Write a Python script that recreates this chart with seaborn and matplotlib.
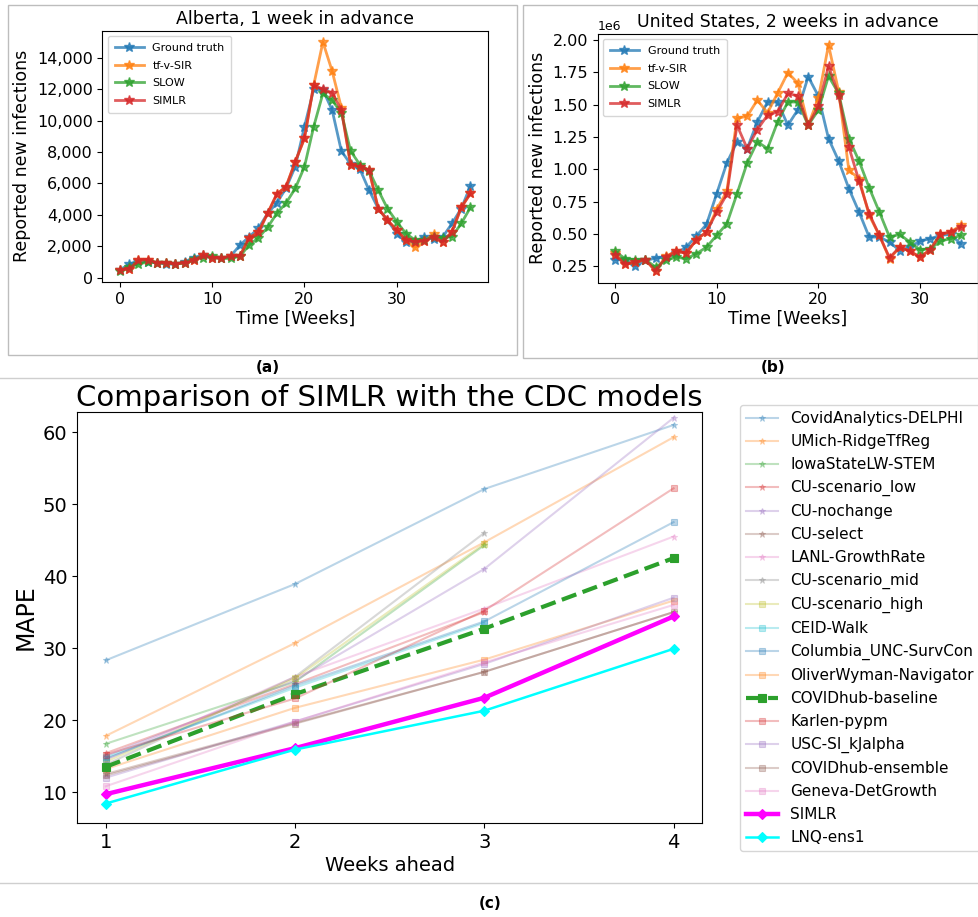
import numpy as np
import pandas as pd
import seaborn as sns
import matplotlib
matplotlib.use("Agg")
import matplotlib.pyplot as plt
from matplotlib.ticker import StrMethodFormatter, MultipleLocator
from matplotlib.lines import Line2D
from matplotlib.patches import Rectangle

# ---------------- Alberta, 1 week ahead ----------------
weeks_ab = list(range(39))
ab_truth = [500, 860, 1070, 1000, 940, 860, 860, 1000, 1280, 1430, 1280, 1220, 1370, 2070,
            2600, 3130, 4090, 4750, 5700, 7070, 9610, 11990, 11940, 10670, 8060, 7230, 6920,
            5570, 4400, 3660, 2810, 2280, 2280, 2600, 2490, 2600, 3450, 4400, 5830]
ab_tfvsir = [500, 540, 1100, 1150, 940, 940, 860, 940, 1100, 1430, 1280, 1220, 1370, 1370,
             2540, 2880, 4090, 5320, 5790, 7380, 8870, 12260, 15000, 13150, 10820, 7200, 7070,
             6850, 4400, 3660, 3030, 2390, 1930, 2340, 2770, 2280, 2920, 4470, 5360]
ab_slow = [450, 700, 860, 1000, 940, 940, 860, 940, 1200, 1280, 1370, 1220, 1220, 1370,
           2070, 2540, 3200, 4090, 4750, 5680, 7060, 9610, 11730, 11300, 10500, 8060, 7200,
           6810, 5570, 4400, 3560, 2810, 2390, 2390, 2600, 2550, 2600, 3450, 4470]
ab_simlr = [500, 540, 1100, 1150, 940, 940, 860, 940, 1100, 1430, 1280, 1220, 1370, 1370,
            2540, 2880, 4090, 5320, 5790, 7380, 8870, 12260, 11990, 11770, 10670, 7200, 7070,
            6850, 4400, 3660, 3030, 2390, 2280, 2340, 2600, 2280, 2920, 4470, 5360]

# ---------------- United States, 2 weeks ahead (millions) ----------------
weeks_us = list(range(35))
us_truth = [0.299, 0.300, 0.250, 0.294, 0.312, 0.320, 0.350, 0.397, 0.483, 0.573, 0.810,
            1.049, 1.212, 1.160, 1.367, 1.520, 1.520, 1.340, 1.462, 1.716, 1.566, 1.237,
            1.064, 0.850, 0.669, 0.475, 0.475, 0.436, 0.371, 0.397, 0.444, 0.462, 0.488,
            0.496, 0.423]
us_tfvsir = [0.350, 0.263, 0.280, 0.300, 0.211, 0.325, 0.366, 0.350, 0.454, 0.514, 0.690,
             0.830, 1.393, 1.410, 1.535, 1.436, 1.590, 1.747, 1.664, 1.341, 1.548, 1.961,
             1.600, 0.992, 0.927, 0.643, 0.488, 0.307, 0.397, 0.366, 0.320, 0.377, 0.496,
             0.514, 0.565]
us_slow = [0.366, 0.307, 0.300, 0.300, 0.242, 0.294, 0.320, 0.307, 0.346, 0.397, 0.488,
           0.578, 0.810, 1.049, 1.212, 1.160, 1.367, 1.520, 1.520, 1.341, 1.457, 1.720,
           1.586, 1.237, 1.064, 0.857, 0.669, 0.475, 0.496, 0.436, 0.377, 0.384, 0.444,
           0.462, 0.488]
us_simlr = [0.340, 0.263, 0.280, 0.300, 0.211, 0.320, 0.366, 0.350, 0.454, 0.514, 0.669,
            0.806, 1.341, 1.160, 1.307, 1.418, 1.444, 1.586, 1.566, 1.341, 1.488, 1.798,
            1.573, 1.173, 0.909, 0.656, 0.488, 0.315, 0.397, 0.366, 0.320, 0.377, 0.496,
            0.514, 0.552]

forecast_names = ["Ground truth", "tf-v-SIR", "SLOW", "SIMLR"]
forecast_colors = ["tab:blue", "tab:orange", "tab:green", "tab:red"]

# ---------------- MAPE vs weeks ahead ----------------
weeks_ahead = [1, 2, 3, 4]
cdc_models = [
    "CovidAnalytics-DELPHI", "UMich-RidgeTfReg", "IowaStateLW-STEM", "CU-scenario_low",
    "CU-nochange", "CU-select", "LANL-GrowthRate", "CU-scenario_mid", "CU-scenario_high",
    "CEID-Walk", "Columbia_UNC-SurvCon", "OliverWyman-Navigator", "COVIDhub-baseline",
    "Karlen-pypm", "USC-SI_kJalpha", "COVIDhub-ensemble", "Geneva-DetGrowth",
    "SIMLR", "LNQ-ens1",
]
mape_delphi = [28.3, 38.9, 52.1, 61.0]
mape_umich = [17.8, 30.7, 44.7, 59.3]
mape_iowa = [16.7, 25.3, 44.3, np.nan]
mape_cu_low = [15.4, 25.0, 35.0, np.nan]
mape_cu_nochange = [15.0, 25.5, 41.0, 62.0]
mape_cu_select = [12.5, 19.6, 26.7, 35.0]
mape_lanl = [14.5, 26.0, 35.5, 45.5]
mape_cu_mid = [13.8, 26.0, 46.0, np.nan]
mape_cu_high = [14.2, 25.8, 44.5, np.nan]
mape_ceid = [14.8, 24.5, 33.5, np.nan]
mape_columbia = [14.6, 24.8, 33.7, 47.5]
mape_oliver = [13.2, 21.7, 28.4, 36.6]
mape_baseline = [13.5, 23.6, 32.7, 42.5]
mape_karlen = [15.2, 23.0, 35.2, 52.2]
mape_usc = [12.0, 19.8, 27.8, 37.0]
mape_ensemble = [12.3, 19.5, 26.7, 35.0]
mape_geneva = [10.8, 19.8, 28.0, 36.0]
mape_simlr = [9.7, 16.1, 23.1, 34.4]
mape_lnq = [8.4, 15.9, 21.3, 29.9]
mape_all = [mape_delphi, mape_umich, mape_iowa, mape_cu_low, mape_cu_nochange,
            mape_cu_select, mape_lanl, mape_cu_mid, mape_cu_high, mape_ceid,
            mape_columbia, mape_oliver, mape_baseline, mape_karlen, mape_usc,
            mape_ensemble, mape_geneva, mape_simlr, mape_lnq]

W, H = 979, 917
fig = plt.figure(figsize=(W / 100, H / 100), dpi=100)
plt.rcParams["font.family"] = ["DejaVu Sans"]


def axes_px(left, top, right, bottom):
    return fig.add_axes([left / W, 1 - bottom / H, (right - left) / W, (bottom - top) / H])


def forecast_panel(ax, weeks, series, title):
    for name, color, vals in zip(forecast_names, forecast_colors, series):
        df = pd.DataFrame({"week": weeks, "value": vals})
        sns.lineplot(data=df, x="week", y="value", ax=ax, color=color, marker="*",
                     markersize=7, mec=color, mew=1, linewidth=2, alpha=0.75, label=name)
    ax.set_title(title, fontsize=12.5, pad=5)
    ax.set_xlabel("Time [Weeks]", fontsize=12.5, labelpad=2)
    ax.set_ylabel("Reported new infections", fontsize=12.5)
    ax.tick_params(labelsize=11.5)
    ax.legend(loc="upper left", fontsize=8, handlelength=2.6, labelspacing=0.7,
              borderpad=0.6)


ax_a = axes_px(102.5, 30.6, 488, 282)
forecast_panel(ax_a, weeks_ab, [ab_truth, ab_tfvsir, ab_slow, ab_simlr],
               "Alberta, 1 week in advance")
ax_a.yaxis.set_major_locator(MultipleLocator(2000))
ax_a.yaxis.set_major_formatter(StrMethodFormatter("{x:,.0f}"))

ax_b = axes_px(597.7, 33.7, 978, 282.5)
forecast_panel(ax_b, weeks_us, [[v * 1e6 for v in s] for s in
                                (us_truth, us_tfvsir, us_slow, us_simlr)],
               "United States, 2 weeks in advance")
ax_b.yaxis.set_major_locator(MultipleLocator(0.25e6))
ax_b.yaxis.get_offset_text().set_fontsize(9)

# ---------------- comparison panel ----------------
ax_c = axes_px(77.3, 412, 702, 823)
tab10 = sns.color_palette("tab10", 10)
for i, (name, vals) in enumerate(zip(cdc_models, mape_all)):
    df = pd.DataFrame({"weeks": weeks_ahead, "mape": vals}).dropna()
    if name == "COVIDhub-baseline":
        kw = dict(color="tab:green", linestyle="--", linewidth=3, marker="s",
                  markersize=6, alpha=1.0)
    elif name == "SIMLR":
        kw = dict(color="magenta", linewidth=3.2, marker="D", markersize=5, alpha=1.0)
    elif name == "LNQ-ens1":
        kw = dict(color="cyan", linewidth=1.8, marker="D", markersize=5, alpha=1.0)
    else:
        kw = dict(color=tab10[i % 10], linewidth=1.5,
                  marker="*" if i < 8 else "s", markersize=5, alpha=0.3)
    sns.lineplot(data=df, x="weeks", y="mape", ax=ax_c, mec=kw["color"], mew=0.8,
                 label=name, **kw)

ax_c.set_xticks(weeks_ahead)
ax_c.set_ylim(5.7, 62.8)
ax_c.set_title("Comparison of SIMLR with the CDC models", fontsize=21, pad=2)
ax_c.set_xlabel("Weeks ahead", fontsize=14, labelpad=3)
ax_c.set_ylabel("MAPE", fontsize=17)
ax_c.tick_params(labelsize=14)
ax_c.legend(loc="upper left", bbox_to_anchor=(740 / W, 1 - 405 / H),
            bbox_transform=fig.transFigure, fontsize=11, labelspacing=0.52,
            handlelength=2.1, borderaxespad=0)

# ---------------- frames, separators and panel letters ----------------
frame_color = "#bdbdbd"
fig.add_artist(Rectangle((8 / W, 1 - 355 / H), (517 - 8) / W, (355 - 5) / H,
                         transform=fig.transFigure, fill=False, ec=frame_color, lw=1))
fig.add_artist(Rectangle((523 / W, 1 - 358 / H), (978 - 523) / W, (358 - 5) / H,
                         transform=fig.transFigure, fill=False, ec=frame_color, lw=1))
for ypx in (378, 883):
    fig.add_artist(Line2D([0, 1], [1 - ypx / H] * 2, transform=fig.transFigure,
                          color="#cfcfcf", lw=1))

for label, xpx, ypx in (("(a)", 268, 367), ("(b)", 773, 367), ("(c)", 490, 903)):
    fig.text(xpx / W, 1 - ypx / H, label, ha="center", va="center",
             fontsize=11, fontweight="bold")

fig.savefig("out.png", dpi=100)
